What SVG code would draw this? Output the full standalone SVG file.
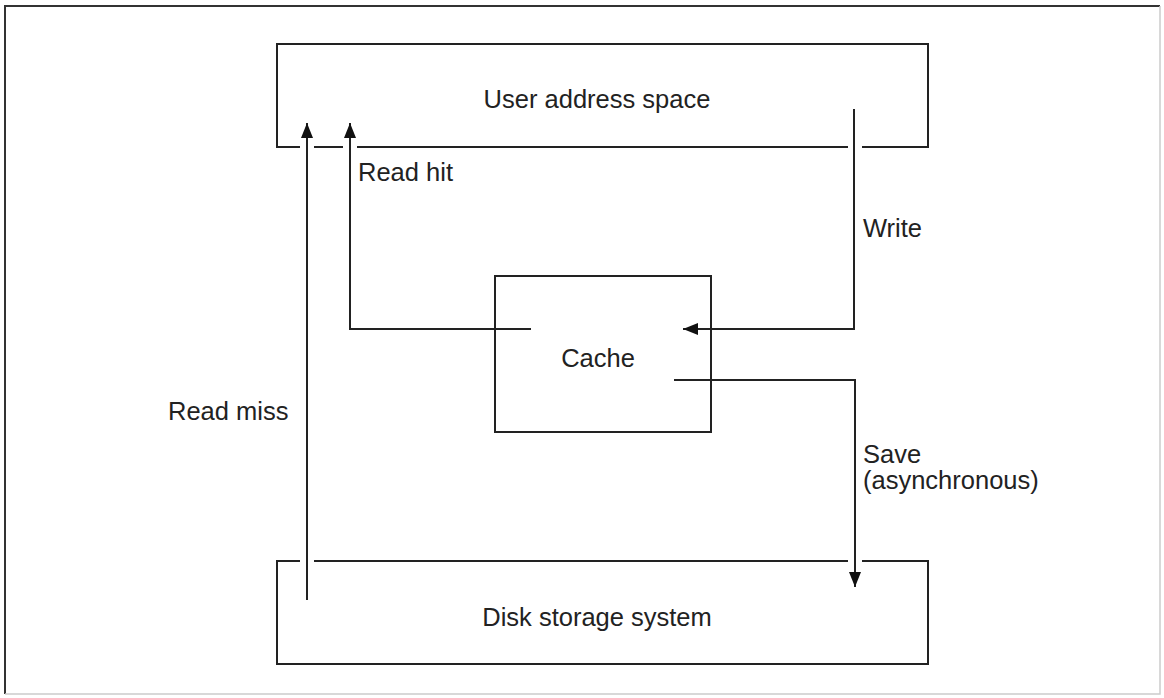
<svg xmlns="http://www.w3.org/2000/svg" width="1164" height="698" viewBox="0 0 1164 698">
<style>
.ln{fill:none;stroke:#222;stroke-width:2;stroke-linecap:butt}
.tx{font-family:"Liberation Sans",Arial,sans-serif;font-size:25.5px;fill:#222}
.c{text-anchor:middle}
</style>
<defs>
<marker id="ah" viewBox="0 0 15 12" refX="15" refY="6" markerWidth="15" markerHeight="12" markerUnits="userSpaceOnUse" orient="auto">
<path d="M0,0 L15,6 L0,12 Z" fill="#111"/>
</marker>
</defs>
<rect width="1164" height="698" fill="#fff"/>
<g id="frame">
<path d="M5,694 L5,6 L1160,6" fill="none" stroke="#333" stroke-width="2"/>
<path d="M1160,6 L1160,694 L5,694" fill="none" stroke="#ccc" stroke-width="1.5"/>
</g>
<g id="user-space">
<path class="ln" d="M300,147 L277,147 L277,44 L928,44 L928,147 L862,147"/>
<path class="ln" d="M314,147 L343,147"/>
<path class="ln" d="M357,147 L848,147"/>
<text class="tx c" x="597" y="108">User address space</text>
</g>
<g id="disk">
<path class="ln" d="M300,561 L277,561 L277,664 L928,664 L928,561 L862,561"/>
<path class="ln" d="M314,561 L848,561"/>
<text class="tx c" x="597" y="626">Disk storage system</text>
</g>
<g id="cache">
<rect class="ln" x="495" y="276" width="216" height="156"/>
<text class="tx c" x="598" y="367">Cache</text>
</g>
<g id="connectors">
<path class="ln" d="M307,600 L307,123" marker-end="url(#ah)"/>
<path class="ln" d="M531,329 L350,329 L350,123" marker-end="url(#ah)"/>
<path class="ln" d="M854,109 L854,329 L683,329" marker-end="url(#ah)"/>
<path class="ln" d="M674,380 L855,380 L855,587" marker-end="url(#ah)"/>
</g>
<g id="labels">
<text class="tx" x="358" y="181">Read hit</text>
<text class="tx" x="863" y="237">Write</text>
<text class="tx" x="168" y="420">Read miss</text>
<text class="tx" x="863" y="463">Save</text>
<text class="tx" x="863" y="489">(asynchronous)</text>
</g>
</svg>
